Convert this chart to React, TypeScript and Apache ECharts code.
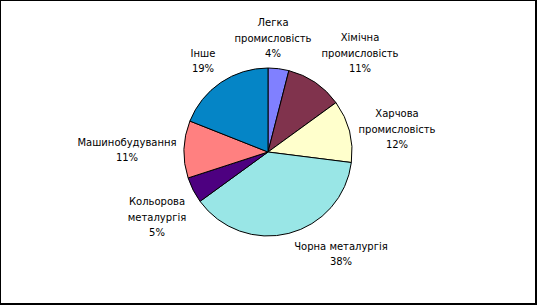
import React, { useEffect, useRef } from "react";
import * as echarts from "echarts";

const categories = [
  "Легка\nпромисловість",
  "Хімічна\nпромисловість",
  "Харчова\nпромисловість",
  "Чорна металургія",
  "Кольорова\nметалургія",
  "Машинобудування",
  "Інше",
];
const shares = [4, 11, 12, 38, 5, 11, 19];
const colors = ["#8080FF", "#80334D", "#FFFFCC", "#99E6E6", "#4D0080", "#FF8080", "#0585C6"];
const labelPositions = [
  [273, 38],
  [360, 53],
  [397, 129],
  [341, 254],
  [157, 217],
  [127, 150],
  [203, 61],
];

export default function App() {
  const ref = useRef<HTMLDivElement>(null);
  useEffect(() => {
    if (!ref.current) return;
    const chart = echarts.init(ref.current, undefined, { renderer: "svg" });
    chart.setOption({
      animation: false,
      backgroundColor: "#ffffff",
      graphic: [
        {
          type: "rect",
          shape: { x: 0, y: 0, width: 536, height: 304 },
          style: { fill: "none", stroke: "#000", lineWidth: 2 },
          silent: true,
        },
      ],
      series: [
        {
          type: "pie",
          center: [268, 152],
          radius: [0, 84],
          startAngle: 90,
          clockwise: true,
          data: categories.map((name, i) => ({
            name,
            value: shares[i],
            itemStyle: { color: colors[i] },
          })),
          itemStyle: { borderColor: "#000", borderWidth: 1 },
          label: {
            show: true,
            position: "outside",
            formatter: "{b}\n{c}%",
            color: "#000",
            fontFamily: "DejaVu Sans",
            fontSize: 10,
            lineHeight: 15.5,
            align: "center",
          },
          labelLine: { show: false },
          labelLayout: (p: any) => ({
            x: labelPositions[p.dataIndex][0],
            y: labelPositions[p.dataIndex][1],
            align: "center",
            verticalAlign: "middle",
          }),
          emphasis: { disabled: true },
        },
      ],
    });
    return () => chart.dispose();
  }, []);
  return (
    <div
      ref={ref}
      style={{ position: "fixed", left: 0, top: 0, width: 537, height: 305 }}
    />
  );
}
